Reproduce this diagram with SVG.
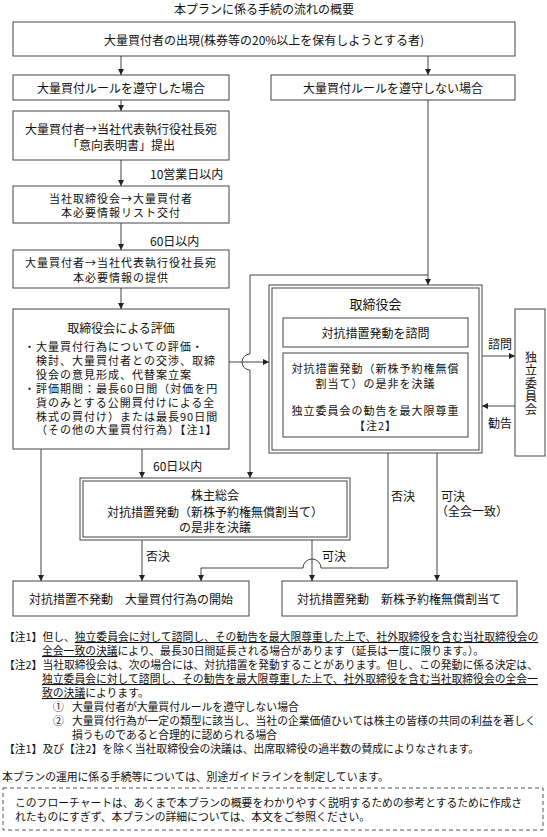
<svg xmlns="http://www.w3.org/2000/svg" width="547" height="837" viewBox="0 0 547 837">
<style>
text{font-family:"Noto Sans CJK JP","Noto Sans CJK SC",sans-serif;font-size:12px;fill:#111;dominant-baseline:central}
.c{text-anchor:middle}
.n{font-size:10.8px}
.e{font-size:11px;letter-spacing:1px}
.u{text-decoration:underline}
.v{writing-mode:vertical-rl;letter-spacing:1px}
.box{fill:#fff;stroke:#444;stroke-width:1}
.ln{fill:none;stroke:#444;stroke-width:1}
.dash{fill:none;stroke:#555;stroke-width:1;stroke-dasharray:4 3}
</style>
<defs>
<marker id="ar" markerWidth="6" markerHeight="6" refX="6" refY="3" orient="auto" markerUnits="userSpaceOnUse">
<path d="M0,0 L6,3 L0,6 z" fill="#222"/>
</marker>
</defs>
<rect width="547" height="837" fill="#fff"/>
<text class="c" x="264" y="8">本プランに係る手続の流れの概要</text>

<g id="connectors">
<path class="ln" d="M121,56 V75" marker-end="url(#ar)"/>
<path class="ln" d="M428,56 V75" marker-end="url(#ar)"/>
<path class="ln" d="M121,100 V111" marker-end="url(#ar)"/>
<path class="ln" d="M121,160 V186" marker-end="url(#ar)"/>
<path class="ln" d="M121,223 V250" marker-end="url(#ar)"/>
<path class="ln" d="M121,288 V309" marker-end="url(#ar)"/>
<path class="ln" d="M428,100 V285" marker-end="url(#ar)"/>
<path class="ln" d="M428,275 H250 V354 A8,8 0 0 0 250,370 V478" marker-end="url(#ar)"/>
<path class="ln" d="M229,362 H269" marker-end="url(#ar)"/>
<path class="ln" d="M482,356 H515" marker-end="url(#ar)"/>
<path class="ln" d="M515,406 H482" marker-end="url(#ar)"/>
<path class="ln" d="M41,449 V581" marker-end="url(#ar)"/>
<path class="ln" d="M142,449 V478" marker-end="url(#ar)"/>
<path class="ln" d="M142,540 V581" marker-end="url(#ar)"/>
<path class="ln" d="M312,540 V581" marker-end="url(#ar)"/>
<path class="ln" d="M388,453 V568 H321 A9,9 0 0 0 303,568 H201 V581" marker-end="url(#ar)"/>
<path class="ln" d="M437,453 V581" marker-end="url(#ar)"/>
<text x="150" y="173">10営業日以内</text>
<text x="150" y="240">60日以内</text>
<text x="153" y="465">60日以内</text>
<text x="488" y="343">諮問</text>
<text x="488" y="422">勧告</text>
<text x="391" y="495">否決</text>
<text x="441" y="495">可決</text>
<text x="436" y="510">（全会一致）</text>
<text x="146" y="555">否決</text>
<text x="322" y="555">可決</text>
</g>

<g id="n-start">
<rect class="box" x="13" y="22" width="502" height="34"/>
<text class="c" x="264" y="39">大量買付者の出現(株券等の20%以上を保有しようとする者)</text>
</g>
<g id="n-comply">
<rect class="box" x="13" y="75" width="216" height="25"/>
<text class="c" x="121" y="87.5">大量買付ルールを遵守した場合</text>
</g>
<g id="n-noncomply">
<rect class="box" x="271" y="75" width="244" height="25"/>
<text class="c" x="393" y="87.5">大量買付ルールを遵守しない場合</text>
</g>
<g id="n-intent">
<rect class="box" x="13" y="111" width="216" height="49"/>
<text class="c" x="121" y="128">大量買付者→当社代表執行役社長宛</text>
<text class="c" x="121" y="144">「意向表明書」提出</text>
</g>
<g id="n-list">
<rect class="box" x="13" y="186" width="216" height="37"/>
<text class="c e" x="121" y="197.5">当社取締役会→大量買付者</text>
<text class="c e" x="121" y="212">本必要情報リスト交付</text>
</g>
<g id="n-info">
<rect class="box" x="13" y="250" width="216" height="38"/>
<text class="c e" x="121" y="262">大量買付者→当社代表執行役社長宛</text>
<text class="c e" x="121" y="277">本必要情報の提供</text>
</g>
<g id="n-eval">
<rect class="box" x="13" y="309" width="216" height="140"/>
<text class="c" x="121" y="327">取締役会による評価</text>
<text class="e"><tspan x="24" y="346">・大量買付行為についての評価・</tspan><tspan x="36" y="359.9">検討、大量買付者との交渉、取締</tspan><tspan x="36" y="373.8">役会の意見形成、代替案立案</tspan><tspan x="24" y="387.7">・評価期間：最長60日間（対価を円</tspan><tspan x="36" y="401.6">貨のみとする公開買付けによる全</tspan><tspan x="36" y="415.5">株式の買付け）または最長90日間</tspan><tspan x="36" y="429.4">（その他の大量買付行為）【注1】</tspan></text>
</g>
<g id="n-board">
<rect class="box" x="269" y="285" width="213" height="168"/>
<rect class="box" x="272" y="288" width="207" height="162"/>
<text class="c" x="375.5" y="303" style="font-size:13px">取締役会</text>
<rect class="box" x="283" y="318" width="185" height="29"/>
<text class="c" x="375.5" y="332.5">対抗措置発動を諮問</text>
<rect class="box" x="283" y="353" width="185" height="84"/>
<text class="c e" x="375.5" y="368">対抗措置発動（新株予約権無償</text>
<text class="c e" x="375.5" y="382.5">割当て）の是非を決議</text>
<text class="c e" x="375.5" y="410">独立委員会の勧告を最大限尊重</text>
<text class="c e" x="375.5" y="424.5">【注2】</text>
</g>
<g id="n-committee">
<rect class="box" x="515" y="309" width="30" height="147"/>
<text class="c v" x="531" y="384">独立委員会</text>
</g>
<g id="n-meeting">
<rect class="box" x="80" y="478" width="270" height="62"/>
<rect class="box" x="83" y="481" width="264" height="56"/>
<text class="c" x="215" y="494">株主総会</text>
<text class="c" x="215" y="511">対抗措置発動（新株予約権無償割当て）</text>
<text class="c" x="215" y="526">の是非を決議</text>
</g>
<g id="n-nonactivate">
<rect class="box" x="13" y="581" width="236" height="35"/>
<text class="c" x="131" y="598.5">対抗措置不発動　大量買付行為の開始</text>
</g>
<g id="n-activate">
<rect class="box" x="282" y="581" width="235" height="35"/>
<text class="c" x="399" y="598.5">対抗措置発動　新株予約権無償割当て</text>
</g>

<g id="notes">
<text class="n" x="4" y="636">【注1】但し、<tspan class="u">独立委員会に対して諮問し、その勧告を最大限尊重した上で、社外取締役を含む当社取締役会の</tspan></text>
<text class="n" x="42" y="650"><tspan class="u">全会一致の決議</tspan>により、最長30日間延長される場合があります（延長は一度に限ります。）。</text>
<text class="n" x="4" y="664">【注2】当社取締役会は、次の場合には、対抗措置を発動することがあります。但し、この発動に係る決定は、</text>
<text class="n" x="42" y="678"><tspan class="u">独立委員会に対して諮問し、その勧告を最大限尊重した上で、社外取締役を含む当社取締役会の全会一</tspan></text>
<text class="n" x="42" y="692"><tspan class="u">致の決議</tspan>によります。</text>
<text class="n" x="53" y="706">①</text>
<text class="n" x="72" y="706">大量買付者が大量買付ルールを遵守しない場合</text>
<text class="n" x="53" y="720">②</text>
<text class="n" x="72" y="720">大量買付行為が一定の類型に該当し、当社の企業価値ひいては株主の皆様の共同の利益を著しく</text>
<text class="n" x="72" y="734">損うものであると合理的に認められる場合</text>
<text class="n" x="4" y="748">【注1】及び【注2】を除く当社取締役会の決議は、出席取締役の過半数の賛成によりなされます。</text>
<text class="n" x="2" y="776">本プランの運用に係る手続等については、別途ガイドラインを制定しています。</text>
<rect class="dash" x="3" y="788" width="540" height="42"/>
<text class="n" x="15" y="802">このフローチャートは、あくまで本プランの概要をわかりやすく説明するための参考とするために作成さ</text>
<text class="n" x="15" y="816">れたものにすぎず、本プランの詳細については、本文をご参照ください。</text>
</g>
</svg>
